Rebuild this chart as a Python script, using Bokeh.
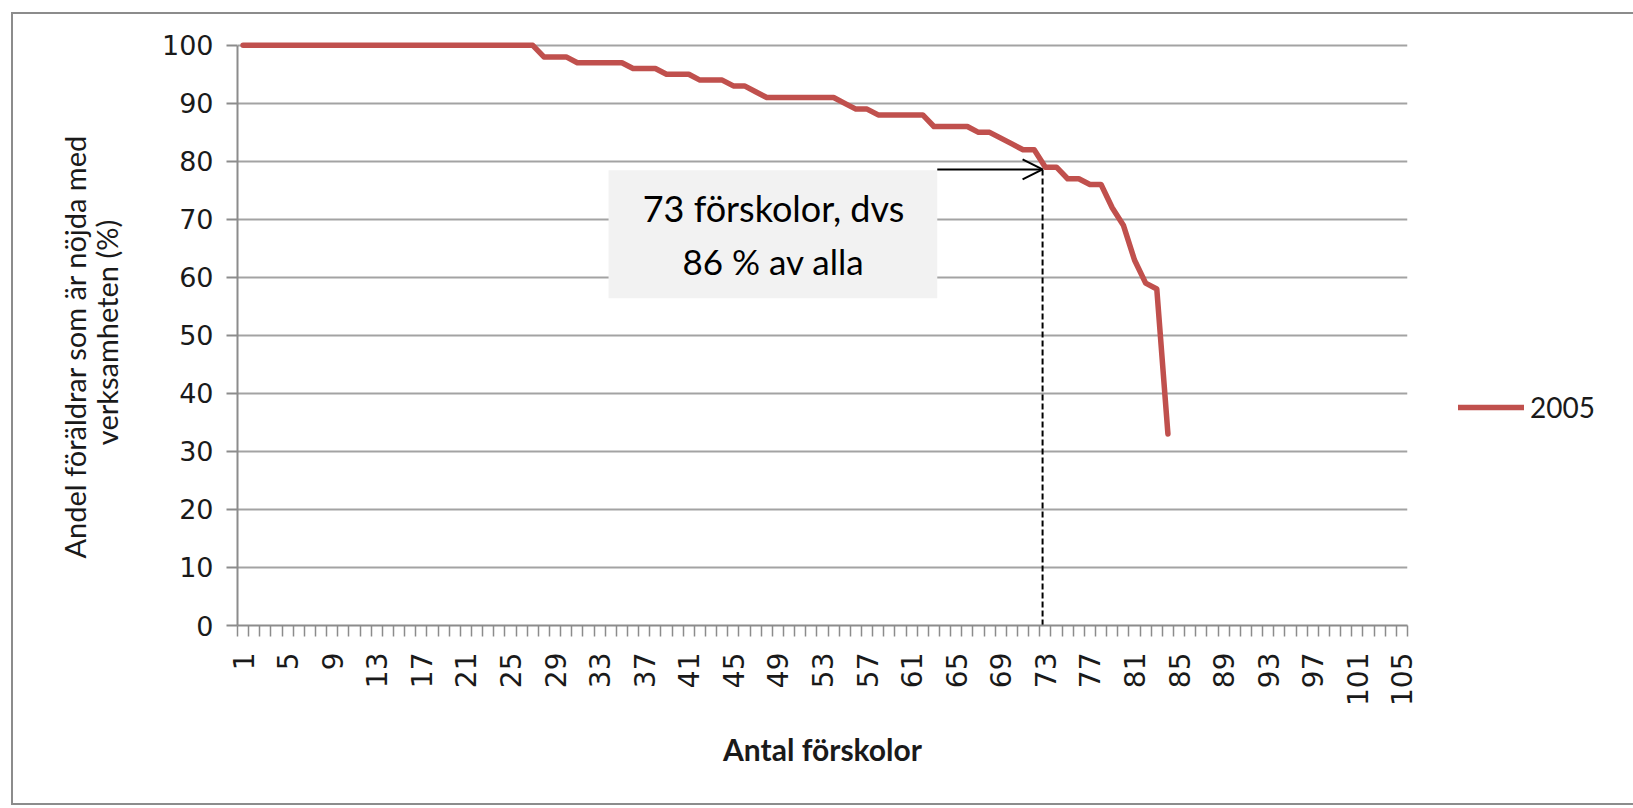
import math
from bokeh.plotting import figure
from bokeh.models import (Range1d, FixedTicker, Label, Arrow, OpenHead,
                          Legend, LegendItem, Title)
from bokeh.embed import file_html
from bokeh.resources import INLINE

# ---- data ----
schools = [1, 2, 3, 4, 5, 6, 7, 8, 9, 10,
           11, 12, 13, 14, 15, 16, 17, 18, 19, 20,
           21, 22, 23, 24, 25, 26, 27, 28, 29, 30,
           31, 32, 33, 34, 35, 36, 37, 38, 39, 40,
           41, 42, 43, 44, 45, 46, 47, 48, 49, 50,
           51, 52, 53, 54, 55, 56, 57, 58, 59, 60,
           61, 62, 63, 64, 65, 66, 67, 68, 69, 70,
           71, 72, 73, 74, 75, 76, 77, 78, 79, 80,
           81, 82, 83, 84]
satisfied_2005 = [100, 100, 100, 100, 100, 100, 100, 100, 100, 100,
                  100, 100, 100, 100, 100, 100, 100, 100, 100, 100,
                  100, 100, 100, 100, 100, 100, 100, 98, 98, 98,
                  97, 97, 97, 97, 97, 96, 96, 96, 95, 95,
                  95, 94, 94, 94, 93, 93, 92, 91, 91, 91,
                  91, 91, 91, 91, 90, 89, 89, 88, 88, 88,
                  88, 88, 86, 86, 86, 86, 85, 85, 84, 83,
                  82, 82, 79, 79, 77, 77, 76, 76, 72, 69,
                  63, 59, 58, 33]
series_name = "2005"
n_categories = 105
x_tick_labels = [1, 5, 9, 13, 17, 21, 25, 29, 33, 37, 41, 45, 49, 53,
                 57, 61, 65, 69, 73, 77, 81, 85, 89, 93, 97, 101, 105]
y_ticks = [0, 10, 20, 30, 40, 50, 60, 70, 80, 90, 100]
marked_count = 73
annotation_lines = ["73 förskolor, dvs", "86 % av alla"]
y_title_lines = ["Andel föräldrar som är nöjda med", "verksamheten (%)"]
x_title = "Antal förskolor"

RED = "#c0504d"
GRID = "#a3a3a3"
AXIS = "#8c8c8c"
TXT = "#1a1a1a"

p = figure(frame_width=1170, frame_height=586,
           min_border_left=224, min_border_right=212,
           min_border_top=25, min_border_bottom=178,
           x_range=Range1d(0.5, n_categories + 0.5),
           y_range=Range1d(0, 101),
           output_backend="svg", toolbar_location=None)
p.outline_line_color = None
p.margin = (12, 0, 0, 11)
p.styles = {"border": "2px solid #8c8c8c"}

# grid
p.xgrid.visible = False
p.ygrid.ticker = FixedTicker(ticks=y_ticks)
p.ygrid.grid_line_color = GRID
p.ygrid.grid_line_width = 2

# y axis
p.yaxis.ticker = FixedTicker(ticks=y_ticks)
p.yaxis.bounds = (0, 100)
p.yaxis.axis_line_color = AXIS
p.yaxis.axis_line_width = 2
p.yaxis.major_tick_line_color = AXIS
p.yaxis.major_tick_line_width = 2
p.yaxis.major_tick_out = 11
p.yaxis.major_tick_in = 0
p.yaxis.minor_tick_line_color = None
p.yaxis.major_label_text_font = "DejaVu Sans"
p.yaxis.major_label_text_font_size = "27px"
p.yaxis.major_label_text_color = TXT
p.yaxis.major_label_standoff = 13
p.yaxis.axis_label = y_title_lines[1]
p.yaxis.axis_label_text_font = "Lato"
p.yaxis.axis_label_text_font_style = "normal"
p.yaxis.axis_label_text_font_size = "29px"
p.yaxis.axis_label_text_color = TXT
p.yaxis.axis_label_standoff = 35

# outer title line, anchored at its start
p.add_layout(Title(text=y_title_lines[0], align="left", offset=67,
                   vertical_align="middle", standoff=-14,
                   text_font="Lato", text_font_style="normal",
                   text_font_size="29px", text_color=TXT), "left")

# x axis: labels at every 4th category, tick marks between categories
boundaries = [k - 0.5 for k in range(1, n_categories + 2)]
p.xaxis.ticker = FixedTicker(ticks=x_tick_labels, minor_ticks=boundaries)
p.xaxis.axis_line_color = AXIS
p.xaxis.axis_line_width = 2
p.xaxis.major_tick_line_color = None
p.xaxis.major_tick_out = 0
p.xaxis.major_tick_in = 0
p.xaxis.minor_tick_line_color = AXIS
p.xaxis.minor_tick_line_width = 1.5
p.xaxis.minor_tick_out = 11
p.xaxis.minor_tick_in = 0
p.xaxis.major_label_orientation = math.pi / 2
p.xaxis.major_label_text_font = "DejaVu Sans"
p.xaxis.major_label_text_font_size = "28px"
p.xaxis.major_label_text_color = TXT
p.xaxis.major_label_standoff = 16
p.xaxis.axis_label = x_title
p.xaxis.axis_label_text_font = "Lato"
p.xaxis.axis_label_text_font_style = "bold"
p.xaxis.axis_label_text_font_size = "30px"
p.xaxis.axis_label_text_color = TXT
p.xaxis.axis_label_standoff = 22

# annotation box
p.quad(left=33.8, right=63.3, bottom=56.4, top=78.45,
       fill_color="#f2f2f2", line_color=None)

# dashed marker line at the 73rd school
p.segment(x0=[marked_count - 0.25], y0=[0], x1=[marked_count - 0.25], y1=[78.6],
          line_color="black", line_width=2, line_dash="6 3")

# series line
r = p.line(schools, satisfied_2005, line_color=RED, line_width=5.5,
           line_join="round", line_cap="round")

# arrow
p.add_layout(Arrow(end=OpenHead(size=20, line_width=2, line_color="black"),
                   x_start=63.3, y_start=78.6, x_end=marked_count - 0.25, y_end=78.6,
                   line_width=2, line_color="black"))

# annotation text
p.add_layout(Label(x=48.6, y=71.95, text=annotation_lines[0], text_align="center",
                   text_baseline="middle", text_font="Lato",
                   text_font_size="36px", text_color="black"))
p.add_layout(Label(x=48.6, y=62.76, text=annotation_lines[1], text_align="center",
                   text_baseline="middle", text_font="Lato",
                   text_font_size="35px", text_color="black"))

# legend (right side panel)
legend = Legend(items=[LegendItem(label=series_name, renderers=[r])],
                location=(51, 201), padding=0, margin=0, spacing=0,
                glyph_width=66, glyph_height=28, label_height=28,
                label_standoff=6, border_line_color=None,
                background_fill_alpha=0,
                label_text_font="Lato", label_text_font_size="28px",
                label_text_color=TXT)
p.add_layout(legend, "right")

open("out.html", "w").write(file_html(p, INLINE))
